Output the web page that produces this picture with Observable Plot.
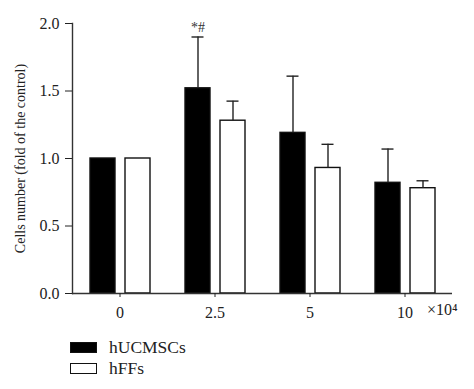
<!DOCTYPE html>
<html>
<head>
<meta charset="utf-8">
<script src="https://cdn.jsdelivr.net/npm/d3@7"></script>
<script src="https://cdn.jsdelivr.net/npm/@observablehq/plot@0.6"></script>
<style>
  html, body { margin: 0; padding: 0; background: #fff; }
  #wrap { position: relative; width: 474px; height: 389px; font-family: "Liberation Serif", "DejaVu Serif", serif; color: #222; }
  .legend { position: absolute; left: 70px; top: 337px; font-size: 17.5px; line-height: 21px; }
  .legend .row { display: flex; align-items: center; height: 21px; }
  .legend .sw { width: 25px; height: 9px; border: 1.2px solid #111; margin-right: 12px; box-sizing: content-box; }
</style>
</head>
<body>
<div id="wrap"></div>
<script>
const groups = ["0", "2.5", "5", "10"];
const series = ["hUCMSCs", "hFFs"];
const hUCMSCs = [1.00, 1.52, 1.19, 0.82];
const hUCMSCsErr = [0, 0.38, 0.42, 0.25];
const hFFs = [1.00, 1.28, 0.93, 0.78];
const hFFsErr = [0, 0.145, 0.175, 0.055];
const colors = {hUCMSCs: "#000", hFFs: "#fff"};
const annotations = [{group: "2.5", series: "hUCMSCs", text: "*#"}];
const yTicks = [0, 0.5, 1.0, 1.5, 2.0];
const yLabel = "Cells number (fold of the control)";
const unitLabel = "×10⁴";

const data = [];
groups.forEach((g, i) => {
  data.push({group: g, series: "hUCMSCs", value: hUCMSCs[i], err: hUCMSCsErr[i]});
  data.push({group: g, series: "hFFs", value: hFFs[i], err: hFFsErr[i]});
});
const errData = data.filter(d => d.err > 0).map(d => ({...d, upper: d.value + d.err}));
const annData = annotations.map(a => {
  const d = errData.find(e => e.group === a.group && e.series === a.series);
  return {...a, upper: d.upper};
});

const chart = Plot.plot({
  width: 474,
  height: 330,
  marginLeft: 71,
  marginRight: 21,
  marginTop: 23,
  marginBottom: 37,
  style: {fontFamily: "Liberation Serif, DejaVu Serif, serif", fontSize: "16px", color: "#222", background: "#fff"},
  fx: {domain: groups, padding: 0, label: null},
  x: {domain: series, paddingInner: 0.3, paddingOuter: 0.48, axis: null},
  y: {domain: [0, 2]},
  marks: [
    Plot.barY(data, {fx: "group", x: "series", y: "value", fill: d => colors[d.series], stroke: "#111", strokeWidth: 1.4}),
    Plot.ruleX(errData, {fx: "group", x: "series", y1: "value", y2: "upper", stroke: "#222", strokeWidth: 1.4}),
    Plot.tickY(errData, {fx: "group", x: "series", y: "upper", stroke: "#222", strokeWidth: 1.4, insetLeft: 6.5, insetRight: 6.5}),
    Plot.text(annData, {fx: "group", x: "series", y: "upper", text: "text", dy: -9, fontSize: 14, fill: "#333"}),
    Plot.ruleY([0], {stroke: "#333", strokeWidth: 1.4}),
    Plot.frame({anchor: "left", facetAnchor: "left", stroke: "#333", strokeWidth: 1.4}),
    Plot.axisY({ticks: yTicks, tickFormat: d3.format(".1f"), tickSize: 7, tickPadding: 6, label: yLabel, labelAnchor: "center", labelArrow: "none", labelOffset: 57, fontSize: 16}),
    Plot.axisFx({anchor: "bottom", tickSize: 4, tickPadding: 9, label: null, fontSize: 16}),
    Plot.text([unitLabel], {fx: ["10"], frameAnchor: "bottom-right", dy: 21, dx: 5, textAnchor: "end", fontSize: 16})
  ]
});
// y-axis title is slightly smaller than tick labels in the reference
chart.querySelectorAll("text").forEach(t => {
  if (t.textContent === yLabel) t.setAttribute("font-size", "14");
});
document.getElementById("wrap").appendChild(chart);

const legend = document.createElement("div");
legend.className = "legend";
series.forEach(s => {
  const row = document.createElement("div");
  row.className = "row";
  const sw = document.createElement("span");
  sw.className = "sw";
  sw.style.background = colors[s];
  const t = document.createElement("span");
  t.textContent = s;
  row.appendChild(sw);
  row.appendChild(t);
  legend.appendChild(row);
});
document.getElementById("wrap").appendChild(legend);
</script>
</body>
</html>
